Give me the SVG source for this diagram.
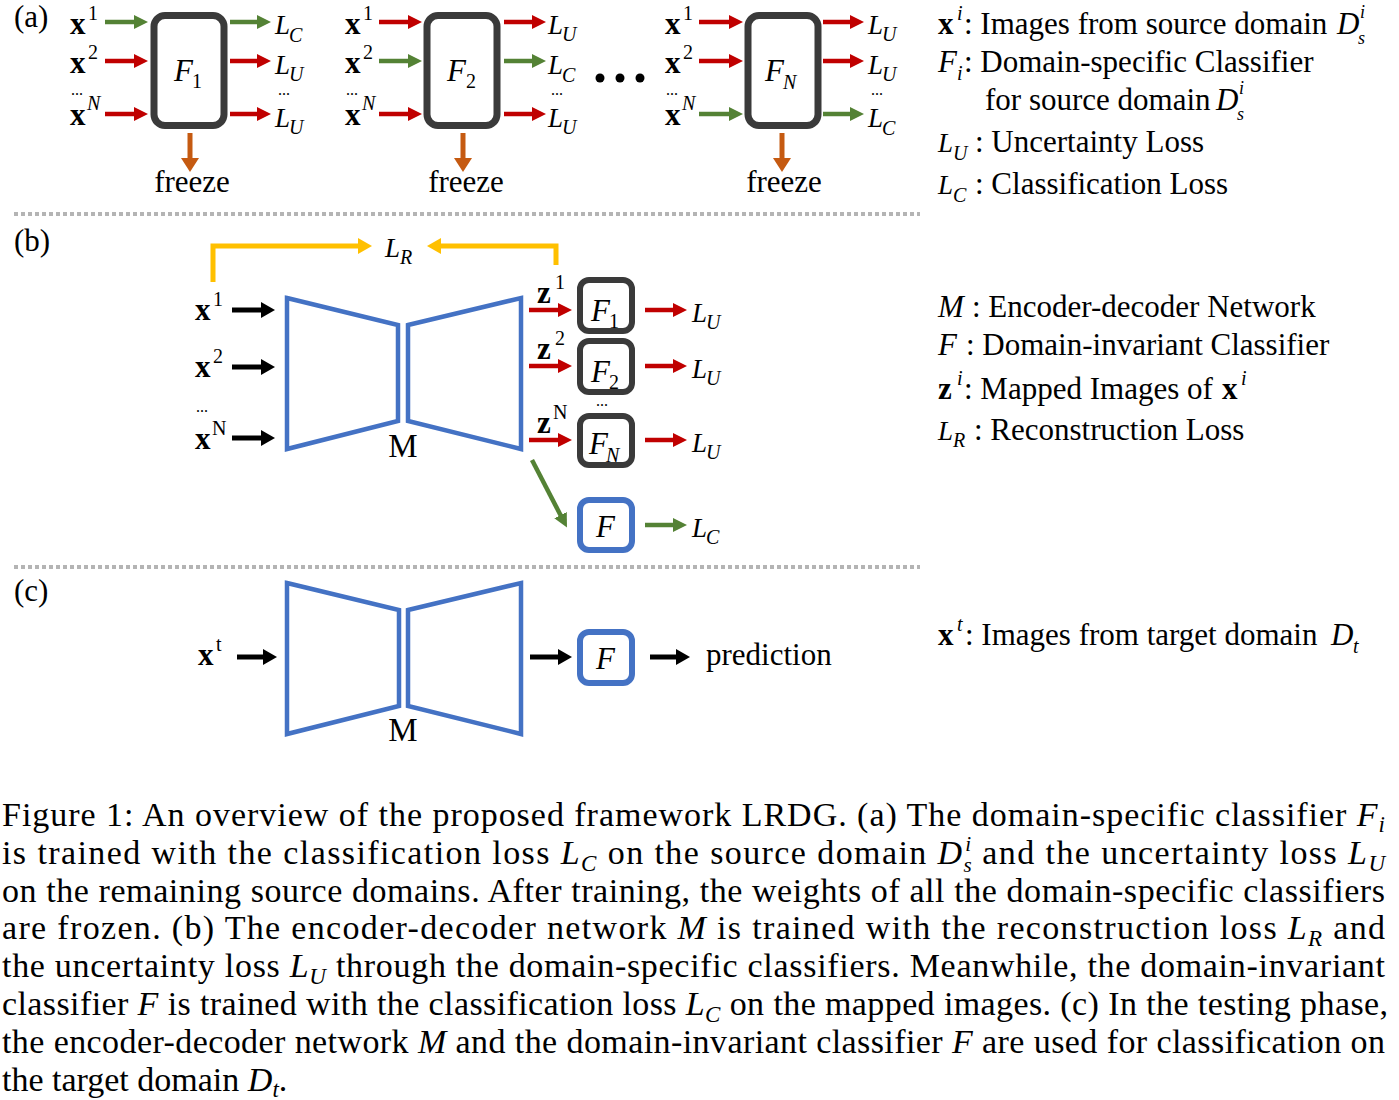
<svg xmlns="http://www.w3.org/2000/svg" width="1399" height="1100" viewBox="0 0 1399 1100">
<style>
text{font-family:"Liberation Serif","Times New Roman",serif;fill:#000}
.t{font-size:31px}
.lab{font-size:31px}
.b{font-weight:bold;font-size:31px}
.it{font-style:italic}
.L{font-style:italic;font-size:27px}
.sub{font-size:20px}
.sup{font-size:20px}
.dots{font-size:16px}
.ss{font-size:18px;font-style:italic}
.fb{font-style:italic;font-size:31px}
.box{fill:#fff;stroke:#3a3a3a;stroke-width:7}
.sbox{fill:#fff;stroke:#3a3a3a;stroke-width:6}
.bbox{fill:#fff;stroke:#4472c4;stroke-width:6}
.trap{fill:none;stroke:#4472c4;stroke-width:4.5;stroke-linejoin:miter}
.r{stroke:#c00000;stroke-width:4.5;fill:none}
.g{stroke:#548235;stroke-width:4.5;fill:none}
.k{stroke:#000;stroke-width:5;fill:none}
.o{stroke:#c55a11;stroke-width:5;fill:none}
.y{stroke:#ffc000;stroke-width:5;fill:none}
.sep{stroke:#b4b4b4;stroke-width:4;stroke-dasharray:4 3}
.cap{font-size:34px}
</style>
<defs>
<marker id="mr" viewBox="0 0 14 14" refX="1" refY="7" markerWidth="14" markerHeight="14" markerUnits="userSpaceOnUse" orient="auto"><path d="M0,0 L14,7 L0,14 z" fill="#c00000"/></marker>
<marker id="mg" viewBox="0 0 14 14" refX="1" refY="7" markerWidth="14" markerHeight="14" markerUnits="userSpaceOnUse" orient="auto"><path d="M0,0 L14,7 L0,14 z" fill="#548235"/></marker>
<marker id="mk" viewBox="0 0 14 16" refX="1" refY="8" markerWidth="14" markerHeight="16" markerUnits="userSpaceOnUse" orient="auto"><path d="M0,0 L14,8 L0,16 z" fill="#000"/></marker>
<marker id="mo" viewBox="0 0 14 18" refX="1" refY="9" markerWidth="14" markerHeight="18" markerUnits="userSpaceOnUse" orient="auto"><path d="M0,0 L14,9 L0,18 z" fill="#c55a11"/></marker>
<marker id="my" viewBox="0 0 14 16" refX="1" refY="8" markerWidth="14" markerHeight="16" markerUnits="userSpaceOnUse" orient="auto"><path d="M0,0 L14,8 L0,16 z" fill="#ffc000"/></marker>
</defs>
<rect width="1399" height="1100" fill="#fff"/>

<!-- separators -->
<line class="sep" x1="14" y1="214" x2="920" y2="214"/>
<line class="sep" x1="14" y1="567" x2="920" y2="567"/>

<!-- section labels -->
<text class="t" x="14" y="27">(a)</text>
<text class="t" x="14" y="251">(b)</text>
<text class="t" x="14" y="601">(c)</text>

<!-- ===== nodes (a) ===== -->
<g id="a-F1">
<rect class="box" x="154" y="15.5" width="70" height="110" rx="11"/>
<text class="fb" x="174" y="81">F</text><text class="sub" x="192" y="88">1</text>
</g>
<g id="a-F2">
<rect class="box" x="427" y="15.5" width="70" height="110" rx="11"/>
<text class="fb" x="447" y="81">F</text><text class="sub" x="466" y="88">2</text>
</g>
<g id="a-FN">
<rect class="box" x="748" y="15.5" width="70" height="110" rx="11"/>
<text class="fb" x="765" y="81">F</text><text class="sub it" x="783" y="89">N</text>
</g>

<!-- (a) input labels -->
<g id="a-inputs">
<text class="b" x="70" y="34">x</text><text class="sup" x="88" y="20">1</text>
<text class="b" x="70" y="73">x</text><text class="sup" x="88" y="59">2</text>
<text class="dots" x="71" y="95">...</text>
<text class="b" x="70" y="125">x</text><text class="sup it" x="87" y="110">N</text>

<text class="b" x="345" y="34">x</text><text class="sup" x="363" y="20">1</text>
<text class="b" x="345" y="73">x</text><text class="sup" x="363" y="59">2</text>
<text class="dots" x="346" y="95">...</text>
<text class="b" x="345" y="125">x</text><text class="sup it" x="362" y="110">N</text>

<text class="b" x="665" y="34">x</text><text class="sup" x="683" y="20">1</text>
<text class="b" x="665" y="73">x</text><text class="sup" x="683" y="59">2</text>
<text class="dots" x="666" y="95">...</text>
<text class="b" x="665" y="125">x</text><text class="sup it" x="682" y="110">N</text>
</g>

<!-- (a) outputs labels -->
<g id="a-outputs">
<text class="L" x="275" y="34">L</text><text class="sub it" x="289" y="42">C</text>
<text class="L" x="275" y="74">L</text><text class="sub it" x="289" y="81">U</text>
<text class="dots" x="278" y="95">...</text>
<text class="L" x="275" y="127">L</text><text class="sub it" x="289" y="134">U</text>

<text class="L" x="548" y="34">L</text><text class="sub it" x="562" y="41">U</text>
<text class="L" x="548" y="74">L</text><text class="sub it" x="562" y="82">C</text>
<text class="dots" x="551" y="95">...</text>
<text class="L" x="548" y="127">L</text><text class="sub it" x="562" y="134">U</text>

<text class="L" x="868" y="34">L</text><text class="sub it" x="882" y="41">U</text>
<text class="L" x="868" y="74">L</text><text class="sub it" x="882" y="81">U</text>
<text class="dots" x="871" y="95">...</text>
<text class="L" x="868" y="127">L</text><text class="sub it" x="882" y="135">C</text>
</g>

<g id="a-freeze">
<text class="t" x="192" y="192" text-anchor="middle">freeze</text>
<text class="t" x="466" y="192" text-anchor="middle">freeze</text>
<text class="t" x="784" y="192" text-anchor="middle">freeze</text>
</g>
<g id="a-dots" fill="#000">
<circle cx="600" cy="78" r="4.5"/><circle cx="620" cy="78" r="4.5"/><circle cx="640" cy="78" r="4.5"/>
</g>

<!-- ===== nodes (b) ===== -->
<g id="b-M">
<polygon class="trap" points="287,298 398,325 398,421 287,449"/>
<polygon class="trap" points="408,325 521,298 521,449 408,421"/>
<text x="403" y="457" font-size="33" text-anchor="middle">M</text>
</g>
<g id="b-inputs">
<text class="b" x="195" y="320">x</text><text class="sup" x="213" y="306">1</text>
<text class="b" x="195" y="377">x</text><text class="sup" x="213" y="363">2</text>
<text class="dots" x="196" y="412">...</text>
<text class="b" x="195" y="449">x</text><text class="sup" x="212" y="435">N</text>
</g>
<g id="b-z">
<text class="b" x="537" y="303">z</text><text class="sup" x="555" y="289">1</text>
<text class="b" x="537" y="359">z</text><text class="sup" x="555" y="345">2</text>
<text class="b" x="537" y="433">z</text><text class="sup" x="553" y="419">N</text>
</g>
<g id="b-F1">
<rect class="sbox" x="580" y="280" width="52" height="51" rx="9"/>
<text class="fb" x="591" y="321">F</text><text class="sub" x="609" y="328">1</text>
</g>
<g id="b-F2">
<rect class="sbox" x="580" y="341" width="52" height="51" rx="9"/>
<text class="fb" x="591" y="382">F</text><text class="sub" x="609" y="389">2</text>
</g>
<text class="dots" x="596" y="406">...</text>
<g id="b-FN">
<rect class="sbox" x="580" y="416" width="52" height="49" rx="9"/>
<text class="fb" x="589" y="454">F</text><text class="sub it" x="606" y="462">N</text>
</g>
<g id="b-F">
<rect class="bbox" x="580" y="500" width="52" height="50" rx="9"/>
<text class="fb" x="596" y="537">F</text>
</g>
<g id="b-LR">
<text class="L" x="385" y="257">L</text><text class="sub it" x="400" y="264">R</text>
</g>
<g id="b-outputs">
<text class="L" x="692" y="322">L</text><text class="sub it" x="706" y="329">U</text>
<text class="L" x="692" y="378">L</text><text class="sub it" x="706" y="385">U</text>
<text class="L" x="692" y="452">L</text><text class="sub it" x="706" y="459">U</text>
<text class="L" x="692" y="537">L</text><text class="sub it" x="706" y="544">C</text>
</g>

<!-- ===== nodes (c) ===== -->
<g id="c-M">
<polygon class="trap" points="287,583 399,610 399,706 287,734"/>
<polygon class="trap" points="408,610 521,583 521,734 408,706"/>
<text x="403" y="741" font-size="33" text-anchor="middle">M</text>
</g>
<g id="c-x">
<text class="b" x="198" y="665">x</text><text class="sup" x="216" y="651">t</text>
</g>
<g id="c-F">
<rect class="bbox" x="580" y="632" width="52" height="51" rx="9"/>
<text class="fb" x="596" y="669">F</text>
</g>
<g id="c-pred">
<text class="t" x="706" y="665">prediction</text>
</g>

<!-- ===== connectors ===== -->
<g id="connectors">
<!-- (a) F1 -->
<line class="g" x1="105" y1="22" x2="135" y2="22" marker-end="url(#mg)"/>
<line class="r" x1="105" y1="61" x2="135" y2="61" marker-end="url(#mr)"/>
<line class="r" x1="105" y1="114" x2="135" y2="114" marker-end="url(#mr)"/>
<line class="g" x1="230" y1="22" x2="258" y2="22" marker-end="url(#mg)"/>
<line class="r" x1="230" y1="61" x2="258" y2="61" marker-end="url(#mr)"/>
<line class="r" x1="230" y1="114" x2="258" y2="114" marker-end="url(#mr)"/>
<!-- (a) F2 -->
<line class="r" x1="379" y1="22" x2="409" y2="22" marker-end="url(#mr)"/>
<line class="g" x1="379" y1="61" x2="409" y2="61" marker-end="url(#mg)"/>
<line class="r" x1="379" y1="114" x2="409" y2="114" marker-end="url(#mr)"/>
<line class="r" x1="504" y1="22" x2="533" y2="22" marker-end="url(#mr)"/>
<line class="g" x1="504" y1="61" x2="533" y2="61" marker-end="url(#mg)"/>
<line class="r" x1="504" y1="114" x2="533" y2="114" marker-end="url(#mr)"/>
<!-- (a) FN -->
<line class="r" x1="699" y1="22" x2="730" y2="22" marker-end="url(#mr)"/>
<line class="r" x1="699" y1="61" x2="730" y2="61" marker-end="url(#mr)"/>
<line class="g" x1="699" y1="114" x2="730" y2="114" marker-end="url(#mg)"/>
<line class="r" x1="823" y1="22" x2="851" y2="22" marker-end="url(#mr)"/>
<line class="r" x1="823" y1="61" x2="851" y2="61" marker-end="url(#mr)"/>
<line class="g" x1="823" y1="114" x2="851" y2="114" marker-end="url(#mg)"/>
<!-- freeze -->
<line class="o" x1="190" y1="133" x2="190" y2="159" marker-end="url(#mo)"/>
<line class="o" x1="463" y1="133" x2="463" y2="159" marker-end="url(#mo)"/>
<line class="o" x1="782" y1="133" x2="782" y2="159" marker-end="url(#mo)"/>
<!-- (b) reconstruction -->
<polyline class="y" points="213,282 213,246 359,246" marker-end="url(#my)"/>
<polyline class="y" points="556,265 556,246 440,246" marker-end="url(#my)"/>
<!-- (b) inputs -->
<line class="k" x1="232" y1="310" x2="262" y2="310" marker-end="url(#mk)"/>
<line class="k" x1="232" y1="367" x2="262" y2="367" marker-end="url(#mk)"/>
<line class="k" x1="232" y1="438" x2="262" y2="438" marker-end="url(#mk)"/>
<!-- (b) z -->
<line class="r" x1="529" y1="310" x2="559" y2="310" marker-end="url(#mr)"/>
<line class="r" x1="529" y1="366" x2="559" y2="366" marker-end="url(#mr)"/>
<line class="r" x1="529" y1="440" x2="559" y2="440" marker-end="url(#mr)"/>
<line class="g" x1="532" y1="460" x2="561" y2="516" marker-end="url(#mg)"/>
<!-- (b) outputs -->
<line class="r" x1="645" y1="310" x2="674" y2="310" marker-end="url(#mr)"/>
<line class="r" x1="645" y1="366" x2="674" y2="366" marker-end="url(#mr)"/>
<line class="r" x1="645" y1="440" x2="674" y2="440" marker-end="url(#mr)"/>
<line class="g" x1="645" y1="525" x2="674" y2="525" marker-end="url(#mg)"/>
<!-- (c) -->
<line class="k" x1="237" y1="657" x2="264" y2="657" marker-end="url(#mk)"/>
<line class="k" x1="530" y1="657" x2="559" y2="657" marker-end="url(#mk)"/>
<line class="k" x1="650" y1="657" x2="677" y2="657" marker-end="url(#mk)"/>
</g>

<!-- ===== legends ===== -->
<g id="legend-a">
<text class="b" x="938" y="34">x</text><text class="sup it" x="957" y="20">i</text>
<text class="lab" x="964" y="34">: Images from source domain</text>
<text class="it lab" x="1337" y="34">D</text><text class="ss" x="1360" y="18">i</text><text class="ss" x="1358" y="44">s</text>

<text class="it lab" x="938" y="72">F</text><text class="sub it" x="957" y="80">i</text>
<text class="lab" x="964" y="72">: Domain-specific Classifier</text>
<text class="lab" x="985" y="110">for source domain</text>
<text class="it lab" x="1216" y="110">D</text><text class="ss" x="1239" y="94">i</text><text class="ss" x="1237" y="120">s</text>

<text class="L" x="938" y="152">L</text><text class="sub it" x="953" y="160">U</text>
<text class="lab" x="975" y="152">: Uncertainty Loss</text>

<text class="L" x="938" y="194">L</text><text class="sub it" x="953" y="202">C</text>
<text class="lab" x="975" y="194">: Classification Loss</text>
</g>
<g id="legend-b">
<text class="it lab" x="938" y="317">M</text>
<text class="lab" x="972" y="317">: Encoder-decoder Network</text>
<text class="it lab" x="938" y="355">F</text>
<text class="lab" x="966" y="355">: Domain-invariant Classifier</text>
<text class="b" x="938" y="399">z</text><text class="sup it" x="957" y="385">i</text>
<text class="lab" x="964" y="399">: Mapped Images of</text>
<text class="b" x="1222" y="399">x</text><text class="sup it" x="1241" y="385">i</text>
<text class="L" x="938" y="440">L</text><text class="sub it" x="953" y="447">R</text>
<text class="lab" x="974" y="440">: Reconstruction Loss</text>
</g>
<g id="legend-c">
<text class="b" x="938" y="645">x</text><text class="sup it" x="957" y="631">t</text>
<text class="lab" x="965" y="645">:  Images from target domain</text>
<text class="it lab" x="1331" y="645">D</text><text class="sub it" x="1353" y="653">t</text>
</g>

<!-- ===== caption ===== -->
<g id="caption" class="cap">
<text class="cap" x="2" y="826" textLength="1383" lengthAdjust="spacing">Figure 1: An overview of the proposed framework LRDG. (a) The domain-specific classifier <tspan class="it">F</tspan><tspan class="it" font-size="23" dy="6">i</tspan></text>
<text class="cap" x="2" y="864" textLength="1383" lengthAdjust="spacing">is trained with the classification loss <tspan class="it">L</tspan><tspan class="it" font-size="23" dy="7">C</tspan><tspan dy="-7"> on the source domain </tspan><tspan class="it">D</tspan><tspan class="it" font-size="21" dy="8">s</tspan><tspan class="it" font-size="21" dx="-8" dy="-21">i</tspan><tspan dy="13"> and the uncertainty loss </tspan><tspan class="it">L</tspan><tspan class="it" font-size="23" dy="7">U</tspan></text>
<text class="cap" x="2" y="902" textLength="1383" lengthAdjust="spacing">on the remaining source domains. After training, the weights of all the domain-specific classifiers</text>
<text class="cap" x="2" y="939" textLength="1383" lengthAdjust="spacing">are frozen.  (b) The encoder-decoder network <tspan class="it">M</tspan> is trained with the reconstruction loss <tspan class="it">L</tspan><tspan class="it" font-size="23" dy="7">R</tspan><tspan dy="-7"> and</tspan></text>
<text class="cap" x="2" y="977" textLength="1383" lengthAdjust="spacing">the uncertainty loss <tspan class="it">L</tspan><tspan class="it" font-size="23" dy="7">U</tspan><tspan dy="-7"> through the domain-specific classifiers. Meanwhile, the domain-invariant</tspan></text>
<text class="cap" x="2" y="1015" textLength="1386" lengthAdjust="spacing">classifier <tspan class="it">F</tspan> is trained with the classification loss <tspan class="it">L</tspan><tspan class="it" font-size="23" dy="7">C</tspan><tspan dy="-7"> on the mapped images. (c) In the testing phase,</tspan></text>
<text class="cap" x="2" y="1053" textLength="1383" lengthAdjust="spacing">the encoder-decoder network <tspan class="it">M</tspan> and the domain-invariant classifier <tspan class="it">F</tspan> are used for classification on</text>
<text class="cap" x="2" y="1091">the target domain <tspan class="it">D</tspan><tspan class="it" font-size="23" dy="6">t</tspan><tspan dy="-6">.</tspan></text>
</g>
</svg>
